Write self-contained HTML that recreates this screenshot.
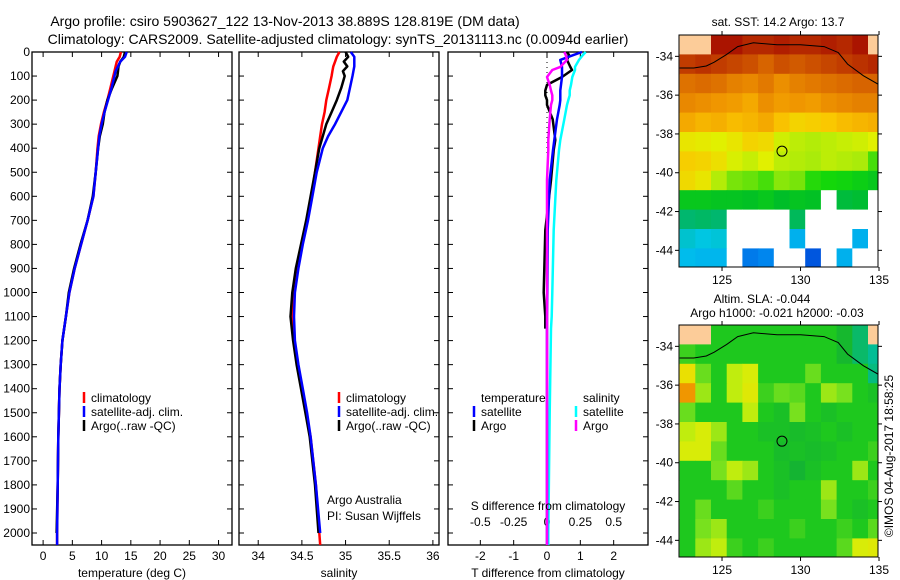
<!DOCTYPE html>
<html><head><meta charset="utf-8">
<style>
html,body{margin:0;padding:0;background:#fff;}
svg{display:block;font-family:"Liberation Sans",sans-serif;}
</style></head>
<body>
<svg id="fig" width="900" height="580" viewBox="0 0 900 580" xmlns="http://www.w3.org/2000/svg">
<text x="285" y="26" font-size="14" text-anchor="middle">Argo profile: csiro 5903627_122 13-Nov-2013 38.889S 128.819E (DM data)</text>
<text x="338" y="44" font-size="14" text-anchor="middle">Climatology: CARS2009. Satellite-adjusted climatology: synTS_20131113.nc (0.0094d earlier)</text>
<text x="778" y="26" font-size="12" text-anchor="middle">sat. SST: 14.2 Argo: 13.7</text>
<text x="762" y="303" font-size="12" text-anchor="middle">Altim. SLA: -0.044</text>
<text x="777" y="317" font-size="12" text-anchor="middle">Argo h1000: -0.021 h2000: -0.03</text>
<text transform="translate(893,456) rotate(-90)" font-size="12" text-anchor="middle">©IMOS 04-Aug-2017 18:58:25</text>
<g id="g"></g>
</svg>
<script>
// ---------- data ----------
const depthTicks = [0,100,200,300,400,500,600,700,800,900,1000,1100,1200,1300,1400,1500,1600,1700,1800,1900,2000];
const tempTicks = [0,5,10,15,20,25,30];
const salTicks = [34,34.5,35,35.5,36];
const salTickLabels = ["34","34.5","35","35.5","36"];
const tdiffTicks = [-2,-1,0,1,2];
const sdiffTicks = [-0.5,-0.25,0,0.25,0.5];
const sdiffTickLabels = ["-0.5","-0.25","0","0.25","0.5"];

const profDepth = [0,20,40,60,80,100,150,200,250,300,350,400,500,600,700,800,900,1000,1100,1200,1300,1400,1500,1600,1800,2000,2050];
const climT = [13.3,13.1,12.6,12.4,12.2,12.0,11.5,11.0,10.4,9.9,9.5,9.3,9.0,8.6,7.6,6.5,5.4,4.5,3.9,3.3,3.0,2.8,2.7,2.6,2.5,2.4,2.4];
const satT  = [14.3,14.0,13.2,12.8,12.4,12.2,11.7,11.1,10.5,10.0,9.6,9.4,9.0,8.6,7.6,6.5,5.4,4.5,3.9,3.3,3.0,2.8,2.7,2.6,2.5,2.4,2.4];
const argoT = [14.0,13.8,13.2,12.9,12.8,12.7,11.8,11.0,10.5,10.2,9.7,9.4,9.0,8.5,7.6,6.4,5.3,4.4,3.9,3.3,3.0,2.8,2.7,2.6,2.5,2.3,2.3];
const climS = [34.93,34.9,34.88,34.86,34.85,34.84,34.81,34.78,34.76,34.73,34.71,34.69,34.65,34.61,34.56,34.5,34.45,34.41,34.39,34.41,34.45,34.5,34.55,34.6,34.66,34.7,34.71];
const satS  = [35.06,35.1,35.1,35.1,35.09,35.08,35.05,35.02,34.95,34.88,34.8,34.74,34.67,34.62,34.57,34.51,34.46,34.42,34.41,34.42,34.46,34.51,34.56,34.6,34.66,34.71,34.72];
const argoS = [35.0,35.03,34.98,35.02,34.97,34.99,34.95,34.9,34.84,34.78,34.74,34.7,34.65,34.6,34.55,34.49,34.43,34.39,34.37,34.4,34.44,34.49,34.54,34.59,34.65,34.69,34.69];

const diffDepth = [0,12,33,62,75,104,137,160,180,200,220,280,366,408,533,740,1000,1100,1150,1500,2000,2050];
const tSatDiff  = [1.05,0.8,0.4,0.45,0.45,0.45,0.42,0.4,0.4,0.4,0.38,0.3,0.22,0.18,0.08,0.02,0.01,0,0,0,0,0];
const tArgoDiff = [0.6,0.66,0.6,0.7,0.75,0.45,0.0,-0.05,-0.05,0,0.0,0.17,0.25,0.2,0.12,-0.05,-0.1,-0.05,-0.05,0,0,0];
const sSatDiff  = [0.29,0.27,0.24,0.21,0.21,0.19,0.18,0.17,0.17,0.16,0.15,0.13,0.1,0.09,0.07,0.05,0.04,0.035,0.03,0.02,0.01,0.01];
const sArgoDiff = [0.13,0.14,0.15,0.1,0.04,0.0,0.02,0.03,0.04,0.04,0.03,0.02,0.01,0.01,0.0,0,0,0,0,0,0,0];

const lonTicks = [125,130,135];
const latTicks = [-34,-36,-38,-40,-42,-44];
const gridLon0 = 122.3, gridLat0 = -32.9; // 1-degree cells
const sstGrid = [
 ["L","L",17.8,17.8,17.6,17.6,17.7,17.6,17.6,17.7,17.6,17.8,"L"],
 [17.4,17.5,17.4,17.3,17.2,17.0,17.2,17.1,17.2,17.3,17.4,17.5,17.6],
 [16.8,16.9,16.8,16.6,16.5,16.7,16.4,16.6,16.7,16.8,16.9,17.0,17.0],
 [16.5,16.4,16.3,16.2,16.0,16.4,16.2,16.3,16.2,16.4,16.5,16.6,16.6],
 [16.0,15.8,15.9,15.7,15.8,16.0,15.6,15.3,15.4,15.5,15.7,15.8,15.9],
 [15.0,14.9,14.8,15.0,15.3,15.2,14.6,14.4,14.3,14.4,14.5,14.6,14.8],
 [15.4,15.3,15.1,14.7,14.5,14.8,14.4,14.3,14.2,14.4,14.3,14.2,13.6],
 [15.2,15.0,14.3,13.9,13.8,13.6,14.0,13.9,13.4,13.3,13.2,13.0,12.8],
 [12.8,12.8,12.7,12.7,12.6,12.8,12.5,12.7,12.6,"N",12.3,12.4,"N"],
 [11.8,11.9,11.8,"N","N","N","N",12.0,"N","N","N","N","N"],
 [10.8,10.6,10.7,"N","N","N","N",10.1,"N","N","N",10.1,"N"],
 [10.3,10.2,10.2,"N",9.2,9.4,"N","N",8.6,"N",10.1,"N","N"]
];
const slaGrid = [
 ["L","L",0,0,0,0,0,0,0,0,-0.04,-0.1,"L"],
 [0.02,0,0,0,0,0,0,0,0,0,-0.04,-0.1,-0.14],
 [0.15,0.05,0,0.1,0.12,0,0,0,0.05,0,0,0,-0.12],
 [0.22,0.08,0,0.1,0.13,0.02,0.05,0.04,0,0.08,0.06,0,-0.02],
 [0.05,0,0,0,0.1,0,-0.02,0.06,0,-0.02,0,0,0],
 [0.1,0.12,0.08,0,0,-0.02,-0.02,-0.03,-0.02,0,-0.02,0,0],
 [0.12,0.12,0.05,0,0,0,-0.03,-0.02,-0.03,-0.02,0,0,0.02],
 [0,0,0.06,0.1,0.08,0,-0.02,-0.05,-0.02,0,0,0.08,0],
 [0,0,0,0.04,0,0,-0.02,0,0,0.08,0,0,0.02],
 [0,0.05,0,0,0,0.02,0,0,0,0.06,0,-0.02,0],
 [0,0.06,0.08,0,0,0,0,0.02,0,0,0.02,0,0.04],
 [0,0.08,0.1,0.02,0,0.02,0,0,0,0,0.04,0.12,0.13]
];
const coastLon = [122.3,123.2,124.0,124.5,125.3,126.0,127.0,128.5,130.0,131.5,132.4,133.0,134.0,135.3];
const coastLat = [-34.6,-34.6,-34.5,-34.3,-33.9,-33.5,-33.3,-33.4,-33.4,-33.5,-33.8,-34.4,-35.0,-35.6];
const argoLon = 128.819, argoLat = -38.889;

// ---------- helpers ----------
const NS="http://www.w3.org/2000/svg";
const G=document.getElementById('g');
function mk(tag,attrs,parent){const e=document.createElementNS(NS,tag);for(const k in attrs)e.setAttribute(k,attrs[k]);(parent||G).appendChild(e);return e;}
function txt(x,y,s,size,anchor,parent){const t=mk('text',{x:x,y:y,'font-size':size,'text-anchor':anchor||'middle'},parent);t.textContent=s;return t;}

const pTop=52, pBot=545;
function yD(d){return pTop+d*0.2405;}

function panel(name,x0,x1,vmin,vmax){
  const p={x0:x0,x1:x1,sx:v=>x0+(v-vmin)/(vmax-vmin)*(x1-x0)};
  const g=mk('g',{});
  
  
  p.g=g;
  const r=mk('rect',{x:x0,y:pTop,width:x1-x0,height:pBot-pTop,fill:'none',stroke:'#000','stroke-width':1.3},g);
  
  
  depthTicks.forEach(d=>{
    const y=yD(d);
    mk('line',{x1:x0,y1:y,x2:x0+5,y2:y,stroke:'#000'},g);
    mk('line',{x1:x1,y1:y,x2:x1-5,y2:y,stroke:'#000'},g);
  });
  return p;
}
function xticks(p,ticks,labels,labelY){
  ticks.forEach((v,i)=>{
    const x=p.sx(v);
    mk('line',{x1:x,y1:pBot,x2:x,y2:pBot-5,stroke:'#000'},p.g);
    mk('line',{x1:x,y1:pTop,x2:x,y2:pTop+5,stroke:'#000'},p.g);
    const t=txt(x,labelY,labels[i],12,'middle',p.g);
    
    
  });
}
function profile(p,depths,vals,color,name,w){
  let d='';
  for(let i=0;i<depths.length;i++){
    const x=p.sx(vals[i]),y=yD(depths[i]);
    d+=(i?'L':'M')+x.toFixed(1)+' '+y.toFixed(1);
  }
  const e=mk('path',{d:d,fill:'none',stroke:color,'stroke-width':w||2.5,'stroke-linejoin':'round'},p.g);
  
  
}
function legendItem(x,y,color,label,parent){
  mk('line',{x1:x,y1:y-10,x2:x,y2:y+1,stroke:color,'stroke-width':2.5},parent);
  const t=txt(x+7,y,label,12,'start',parent);
  
  
}

depthTicks.forEach(d=>{
  const t=txt(30,yD(d)+4,String(d),12,'end');
  
  
});

// panel 1 temperature
const p1=panel('temperature-panel',32,232,-1.9,32.3);
xticks(p1,tempTicks,tempTicks.map(String),560);
profile(p1,profDepth,climT,'#f00','temp-climatology-line');
profile(p1,profDepth.slice(0,26),argoT.slice(0,26),'#000','temp-argo-line');
profile(p1,profDepth,satT,'#00f','temp-satellite-line');
const t1=txt(132,577,'temperature (deg C)',12,'middle',p1.g);


legendItem(84,402,'#f00','climatology',p1.g);
legendItem(84,416,'#00f','satellite-adj. clim.',p1.g);
legendItem(84,430,'#000','Argo(..raw -QC)',p1.g);

// panel 2 salinity
const p2=panel('salinity-panel',239,439,33.78,36.07);
xticks(p2,salTicks,salTickLabels,560);
profile(p2,profDepth,climS,'#f00','sal-climatology-line');
profile(p2,profDepth.slice(0,26),argoS.slice(0,26),'#000','sal-argo-line');
profile(p2,profDepth.slice(0,26),satS.slice(0,26),'#00f','sal-satellite-line');
const t2=txt(339,577,'salinity',12,'middle',p2.g);


legendItem(339,402,'#f00','climatology',p2.g);
legendItem(339,416,'#00f','satellite-adj. clim.',p2.g);
legendItem(339,430,'#000','Argo(..raw -QC)',p2.g);
const a1=txt(327,504,'Argo Australia',12,'start',p2.g);


const a2=txt(327,520,'PI: Susan Wijffels',12,'start',p2.g);



// panel 3 differences
const p3=panel('difference-panel',448,648,-2.97,3.03);
const sxS=v=>p3.sx(v*4);
xticks(p3,tdiffTicks,tdiffTicks.map(String),560);
sdiffTicks.forEach((v,i)=>{
  const t=txt(sxS(v),526,sdiffTickLabels[i],12,'middle',p3.g);
  
  
});
mk('line',{x1:p3.sx(0),y1:pTop,x2:p3.sx(0),y2:yD(420),stroke:'#000','stroke-dasharray':'1,4'},p3.g);
const pS={sx:sxS,g:p3.g};
profile(pS,diffDepth,sSatDiff,'#0ff','s-satellite-diff-line');
profile(p3,diffDepth.slice(0,19),tArgoDiff.slice(0,19),'#000','t-argo-diff-line');
profile(p3,diffDepth,tSatDiff,'#00f','t-satellite-diff-line');
profile(pS,diffDepth,sArgoDiff,'#f0f','s-argo-diff-line');
const t3=txt(548,577,'T difference from climatology',12,'middle',p3.g);


const t4=txt(548,510,'S difference from climatology',12,'middle',p3.g);


const lt=txt(481,402,'temperature',12,'start',p3.g);


const ls=txt(583,402,'salinity',12,'start',p3.g);


legendItem(474,416,'#00f','satellite',p3.g);
legendItem(474,430,'#000','Argo',p3.g);
legendItem(576,416,'#0ff','satellite',p3.g);
legendItem(576,430,'#f0f','Argo',p3.g);

// ---------- maps ----------
function lerpColor(stops,v){
  if(v<=stops[0][0])return stops[0][1];
  for(let i=1;i<stops.length;i++){
    if(v<=stops[i][0]){
      const a=stops[i-1],b=stops[i],f=(v-a[0])/(b[0]-a[0]);
      return a[1].map((x,k)=>Math.round(x+(b[1][k]-x)*f));
    }
  }
  return stops[stops.length-1][1];
}
const sstStops=[[8.5,[0,80,220]],[9.5,[0,140,240]],[10.5,[0,200,235]],[11.5,[0,180,140]],[12.5,[0,190,40]],[13.3,[20,215,10]],[14.2,[170,235,10]],[14.8,[225,240,0]],[15.5,[250,200,0]],[16.3,[240,150,0]],[17.0,[215,100,0]],[17.8,[170,20,0]]];
const slaStops=[[-0.15,[0,190,160]],[-0.05,[20,180,50]],[0,[30,200,30]],[0.06,[120,225,30]],[0.11,[210,240,10]],[0.16,[240,220,0]],[0.22,[240,150,0]]];

function drawMap(name,mTop,grid,stops){
  const x0=679,x1=878,mBot=mTop+232;
  const sx=lon=>x0+(lon-122.26)*15.7;
  const sy=lat=>mTop+(-32.9-lat)*19.4;
  const g=mk('g',{});
  
  
  const cp=mk('clipPath',{id:name+'-clip'},g);
  mk('rect',{x:x0,y:mTop,width:x1-x0,height:mBot-mTop},cp);
  const cg=mk('g',{'clip-path':'url(#'+name+'-clip)'},g);
  for(let r=0;r<grid.length;r++){
    for(let c=0;c<grid[r].length;c++){
      const v=grid[r][c];
      let fill;
      if(v==='L')fill='#fccc99';
      else if(v==='N')fill='#fff';
      else{const col=lerpColor(stops,v);fill='rgb('+col.join(',')+')';}
      const cell=mk('rect',{x:sx(gridLon0+c).toFixed(1),y:sy(gridLat0-r).toFixed(1),width:16.2,height:19.9,fill:fill},cg);
      
      
    }
  }
  let dl='M'+sx(coastLon[0])+' '+sy(coastLat[0]);
  for(let i=1;i<coastLon.length;i++)dl+='L'+sx(coastLon[i]).toFixed(1)+' '+sy(coastLat[i]).toFixed(1);
  const coast=mk('path',{d:dl,fill:'none',stroke:'#000','stroke-width':1},cg);
  
  
  const circ=mk('circle',{cx:sx(argoLon),cy:sy(argoLat),r:5,fill:'none',stroke:'#000','stroke-width':1},g);
  
  
  mk('rect',{x:x0,y:mTop,width:x1-x0,height:mBot-mTop,fill:'none',stroke:'#000','stroke-width':1},g);
  lonTicks.forEach(l=>{
    const x=sx(l);
    mk('line',{x1:x,y1:mBot,x2:x,y2:mBot+4,stroke:'#000'},g);
    mk('line',{x1:x,y1:mTop,x2:x,y2:mTop-4,stroke:'#000'},g);
    const t=txt(x,mBot+17,String(l),12,'middle',g);
    
    
  });
  latTicks.forEach(l=>{
    const y=sy(l);
    mk('line',{x1:x0,y1:y,x2:x0-4,y2:y,stroke:'#000'},g);
    mk('line',{x1:x1,y1:y,x2:x1+4,y2:y,stroke:'#000'},g);
    const t=txt(x0-6,y+4,String(l),12,'end',g);
    
    
  });
}
drawMap('sst-map',35,sstGrid,sstStops);
drawMap('sla-map',325,slaGrid,slaStops);
</script>
</body></html>
